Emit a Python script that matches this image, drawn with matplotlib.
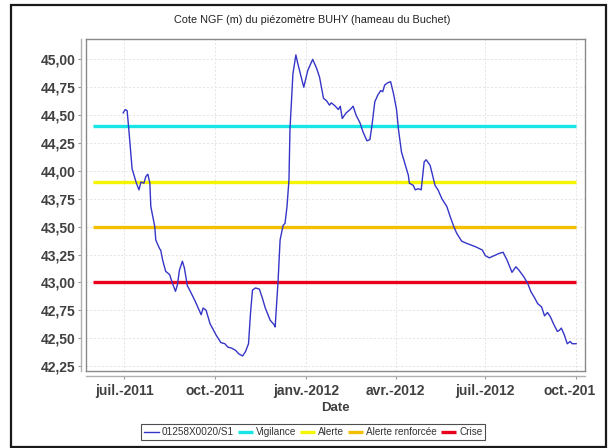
import matplotlib
matplotlib.use("Agg")
import matplotlib.pyplot as plt
from matplotlib.patches import Rectangle
from matplotlib.transforms import ScaledTranslation
import datetime as dt

plt.rcParams['font.family'] = ['Liberation Sans', 'DejaVu Sans']

title = "Cote NGF (m) du piézomètre BUHY (hameau du Buchet)"
x_label = "Date"

dates = [
    "2011-06-30", "2011-07-02", "2011-07-04", "2011-07-06", "2011-07-09", "2011-07-13",
    "2011-07-16", "2011-07-18", "2011-07-21", "2011-07-23", "2011-07-25", "2011-07-27",
    "2011-07-28", "2011-08-01", "2011-08-02", "2011-08-06", "2011-08-07", "2011-08-09",
    "2011-08-12", "2011-08-16", "2011-08-19", "2011-08-22", "2011-08-24", "2011-08-26",
    "2011-08-29", "2011-08-31", "2011-09-03", "2011-09-06", "2011-09-11", "2011-09-17",
    "2011-09-19", "2011-09-22", "2011-09-26", "2011-10-02", "2011-10-07", "2011-10-11",
    "2011-10-14", "2011-10-18", "2011-10-22", "2011-10-25", "2011-10-29", "2011-11-01",
    "2011-11-04", "2011-11-06", "2011-11-08", "2011-11-11", "2011-11-15", "2011-11-18",
    "2011-11-21", "2011-11-26", "2011-11-30", "2011-12-01", "2011-12-04", "2011-12-06",
    "2011-12-09", "2011-12-11", "2011-12-13", "2011-12-15", "2011-12-16", "2011-12-19",
    "2011-12-22", "2011-12-24", "2011-12-30", "2012-01-03", "2012-01-08", "2012-01-12",
    "2012-01-15", "2012-01-19", "2012-01-22", "2012-01-25", "2012-01-27", "2012-01-31",
    "2012-02-03", "2012-02-05", "2012-02-07", "2012-02-11", "2012-02-15", "2012-02-18",
    "2012-02-21", "2012-02-25", "2012-02-28", "2012-03-03", "2012-03-06", "2012-03-08",
    "2012-03-11", "2012-03-14", "2012-03-17", "2012-03-19", "2012-03-21", "2012-03-24",
    "2012-03-27", "2012-03-30", "2012-04-02", "2012-04-04", "2012-04-07", "2012-04-10",
    "2012-04-14", "2012-04-15", "2012-04-19", "2012-04-21", "2012-04-24", "2012-04-27",
    "2012-04-30", "2012-05-02", "2012-05-06", "2012-05-08", "2012-05-11", "2012-05-14",
    "2012-05-18", "2012-05-23", "2012-05-26", "2012-05-30", "2012-06-02", "2012-06-07",
    "2012-06-12", "2012-06-21", "2012-06-28", "2012-07-01", "2012-07-05", "2012-07-10",
    "2012-07-15", "2012-07-19", "2012-07-23", "2012-07-28", "2012-08-01", "2012-08-04",
    "2012-08-09", "2012-08-13", "2012-08-16", "2012-08-20", "2012-08-23", "2012-08-27",
    "2012-08-30", "2012-09-02", "2012-09-05", "2012-09-08", "2012-09-12", "2012-09-14",
    "2012-09-16", "2012-09-19", "2012-09-22", "2012-09-25", "2012-09-27", "2012-10-01",
]
levels = [
    44.52, 44.55, 44.54, 44.34, 44.02, 43.90,
    43.83, 43.90, 43.89, 43.95, 43.97, 43.89,
    43.68, 43.50, 43.38, 43.30, 43.29, 43.20,
    43.10, 43.07, 42.99, 42.92, 42.98, 43.11,
    43.19, 43.13, 42.97, 42.92, 42.83, 42.71,
    42.77, 42.75, 42.63, 42.53, 42.46, 42.45,
    42.42, 42.41, 42.39, 42.36, 42.34, 42.38,
    42.45, 42.72, 42.93, 42.95, 42.94, 42.86,
    42.77, 42.66, 42.62, 42.60, 43.02, 43.38,
    43.51, 43.53, 43.68, 43.92, 44.37, 44.87,
    45.04, 44.96, 44.75, 44.90, 45.00, 44.92,
    44.84, 44.65, 44.63, 44.59, 44.61, 44.58,
    44.55, 44.58, 44.47, 44.52, 44.55, 44.58,
    44.50, 44.43, 44.35, 44.27, 44.28, 44.40,
    44.62, 44.68, 44.72, 44.71, 44.77, 44.79,
    44.80, 44.69, 44.55, 44.37, 44.17, 44.08,
    43.96, 43.89, 43.87, 43.83, 43.84, 43.83,
    44.08, 44.10, 44.05, 43.98, 43.87, 43.83,
    43.75, 43.68, 43.60, 43.50, 43.44, 43.37,
    43.35, 43.32, 43.29, 43.24, 43.22, 43.24,
    43.26, 43.27, 43.20, 43.09, 43.14, 43.11,
    43.05, 42.99, 42.92, 42.86, 42.81, 42.78,
    42.70, 42.73, 42.69, 42.63, 42.56, 42.57,
    42.59, 42.53, 42.45, 42.47, 42.45, 42.45,
]

series_name = "01258X0020/S1"
threshold_names = ["Vigilance", "Alerte", "Alerte renforcée", "Crise"]
threshold_values = [44.40, 43.90, 43.50, 43.00]
threshold_colors = ["#18E6E6", "#F5F500", "#F2C000", "#E8001C"]
threshold_dates = ["2011-05-30", "2012-10-01"]

y_ticks = [42.25, 42.50, 42.75, 43.00, 43.25, 43.50, 43.75, 44.00, 44.25, 44.50, 44.75, 45.00]
y_tick_labels = ["42,25", "42,50", "42,75", "43,00", "43,25", "43,50", "43,75",
                 "44,00", "44,25", "44,50", "44,75", "45,00"]
x_ticks = ["2011-07-01", "2011-10-01", "2012-01-01", "2012-04-01", "2012-07-01", "2012-10-01"]
x_tick_labels = ["juil.-2011", "oct.-2011", "janv.-2012", "avr.-2012", "juil.-2012", "oct.-201"]
x_range = ["2011-05-23", "2012-10-10"]
y_range = [42.208, 45.18]

def to_dt(s):
    return dt.datetime.strptime(s, "%Y-%m-%d")

W, H = 616, 448
fig = plt.figure(figsize=(W / 100, H / 100), dpi=100)
fig.patch.set_facecolor("white")

# outer border
fig.add_artist(Rectangle((11 / W, 1 - 447 / H), 595 / W, 442 / H, transform=fig.transFigure,
                         fill=False, edgecolor="#1a1a1a", linewidth=1.6))

ax = fig.add_axes([85.7 / W, 1 - 370.7 / H, (585 - 85.7) / W, (370.7 - 39.3) / H])

xd = [to_dt(d) for d in dates]
td = [to_dt(d) for d in threshold_dates]

for name, v, c in zip(threshold_names, threshold_values, threshold_colors):
    ax.plot(td, [v, v], color=c, linewidth=2.4, solid_capstyle="butt", label=name, zorder=2)
line, = ax.plot(xd, levels, color="#3535C8", linewidth=1.0, label=series_name, zorder=3)

ax.set_xlim(to_dt(x_range[0]), to_dt(x_range[1]))
ax.set_ylim(*y_range)

ax.set_yticks(y_ticks)
ax.set_yticklabels(y_tick_labels)
ax.set_xticks([to_dt(d) for d in x_ticks])
ax.set_xticklabels(x_tick_labels)

ax.grid(True, color="#E4E4E4", linestyle=(0, (2, 2)), linewidth=0.7)
ax.set_axisbelow(True)

for s in ["top", "right"]:
    ax.spines[s].set_color("#8a8a8a")
    ax.spines[s].set_linewidth(1.0)
for s in ["left", "bottom"]:
    ax.spines[s].set_position(("outward", 3.5))
    ax.spines[s].set_color("#b0b0b0")
    ax.spines[s].set_linewidth(1.0)
# inner frame left/bottom
ax.plot([0, 0], [0, 1], transform=ax.transAxes, color="#8a8a8a", linewidth=1.0, clip_on=False)
ax.plot([0, 1], [0, 0], transform=ax.transAxes, color="#8a8a8a", linewidth=1.0, clip_on=False)

ax.tick_params(axis="both", direction="out", length=2, width=0.8, color="#999999",
               labelcolor="#404040", labelsize=10, pad=2)
for lab in ax.get_yticklabels() + ax.get_xticklabels():
    lab.set_fontweight("bold")
ax.tick_params(axis="x", pad=4)

# last x label shifted left a bit (clipped in original)
last = ax.get_xticklabels()[-1]
last.set_transform(last.get_transform() + ScaledTranslation(-6 / 100, 0, fig.dpi_scale_trans))

fig.text(312 / W, 1 - 20 / H, title, ha="center", va="center", fontsize=7.8, color="#222222")
ax.set_xlabel(x_label, fontsize=9.5, fontweight="bold", color="#404040", labelpad=3)

handles = [line] + [h for h in ax.get_lines()[:4]]
labels = [series_name] + threshold_names
leg = fig.legend(handles, labels, loc="center", bbox_to_anchor=(313 / W, 1 - 432 / H),
                 ncol=5, fontsize=7.2, frameon=True, fancybox=False, handlelength=1.5,
                 handletextpad=0.3, columnspacing=0.4, borderpad=0.3, borderaxespad=0)
leg.get_frame().set_edgecolor("#222222")
leg.get_frame().set_linewidth(0.8)
for t in leg.get_texts():
    t.set_color("#333333")

fig.savefig("out.png", dpi=100, facecolor="white")
